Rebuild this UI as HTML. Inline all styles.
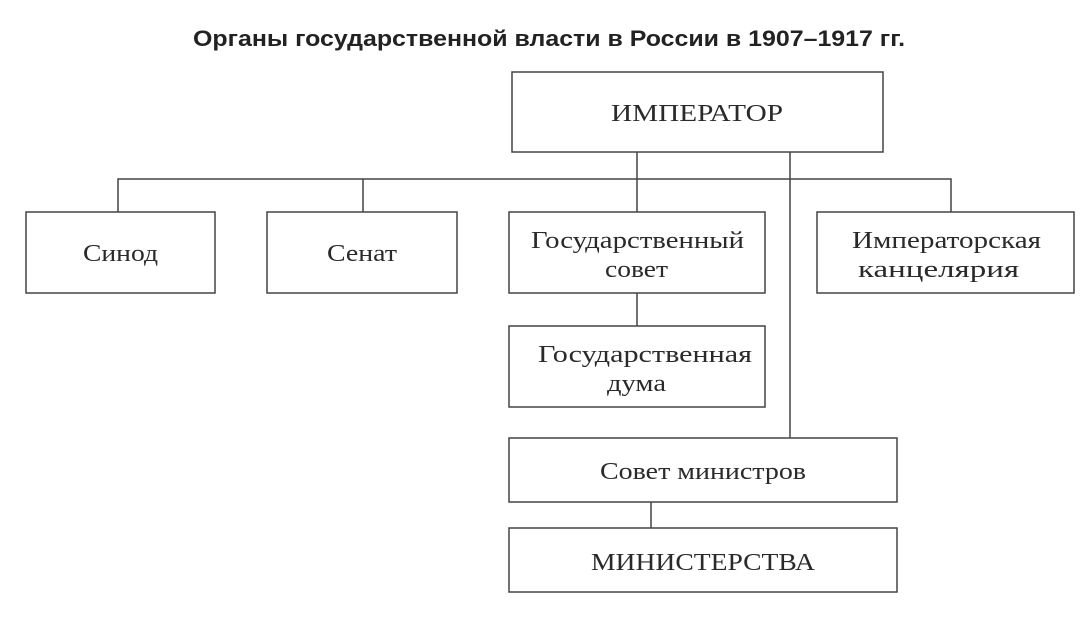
<!DOCTYPE html>
<html><head><meta charset="utf-8"><style>
html,body{margin:0;padding:0;background:#fff;}
svg{display:block}
.t{font-family:"Liberation Serif","Noto Serif CJK SC",serif;font-size:24px;fill:#2a2a2a}
</style></head><body>
<svg width="1090" height="619" viewBox="0 0 1090 619" xmlns="http://www.w3.org/2000/svg">
<text x="193" y="46" textLength="712" lengthAdjust="spacingAndGlyphs" style="font-family:'Liberation Sans',sans-serif;font-weight:bold;font-size:22px;fill:#222">Органы государственной власти в России в 1907–1917 гг.</text>
<g fill="none" stroke="#444" stroke-width="1.5">
<rect x="512" y="72" width="371" height="80"/>
<rect x="26" y="212" width="189" height="81"/>
<rect x="267" y="212" width="190" height="81"/>
<rect x="509" y="212" width="256" height="81"/>
<rect x="817" y="212" width="257" height="81"/>
<rect x="509" y="326" width="256" height="81"/>
<rect x="509" y="438" width="388" height="64"/>
<rect x="509" y="528" width="388" height="64"/>
<path d="M118 212V179H951V212M363 179V212M637 152V212M790 152V438M637 293V326M651 502V528"/>
</g>
<g class="t" style="font-family:'Liberation Serif',serif;font-size:24px;fill:#2a2a2a">
<text x="611" y="121" textLength="172" lengthAdjust="spacingAndGlyphs">ИМПЕРАТОР</text>
<text x="83" y="261" textLength="75" lengthAdjust="spacingAndGlyphs">Синод</text>
<text x="327" y="261" textLength="70" lengthAdjust="spacingAndGlyphs">Сенат</text>
<text x="531" y="248" textLength="213" lengthAdjust="spacingAndGlyphs">Государственный</text>
<text x="605" y="277" textLength="63" lengthAdjust="spacingAndGlyphs">совет</text>
<text x="852" y="248" textLength="189" lengthAdjust="spacingAndGlyphs">Императорская</text>
<text x="858" y="277" textLength="161" lengthAdjust="spacingAndGlyphs">канцелярия</text>
<text x="538" y="362" textLength="214" lengthAdjust="spacingAndGlyphs">Государственная</text>
<text x="607" y="391" textLength="59" lengthAdjust="spacingAndGlyphs">дума</text>
<text x="600" y="479" textLength="206" lengthAdjust="spacingAndGlyphs">Совет министров</text>
<text x="591" y="570" textLength="224" lengthAdjust="spacingAndGlyphs">МИНИСТЕРСТВА</text>
</g>
</svg>
</body></html>
